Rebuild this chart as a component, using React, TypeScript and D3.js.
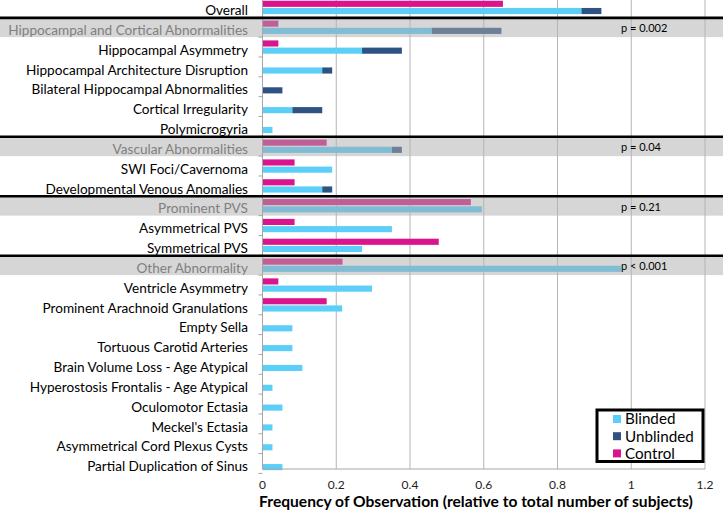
import React, { useEffect } from "react";
import * as d3 from "d3";

const categories = [
  "Overall",
  "Hippocampal and Cortical Abnormalities",
  "Hippocampal Asymmetry",
  "Hippocampal Architecture Disruption",
  "Bilateral Hippocampal Abnormalities",
  "Cortical Irregularity",
  "Polymicrogyria",
  "Vascular Abnormalities",
  "SWI Foci/Cavernoma",
  "Developmental Venous Anomalies",
  "Prominent PVS",
  "Asymmetrical PVS",
  "Symmetrical PVS",
  "Other Abnormality",
  "Ventricle Asymmetry",
  "Prominent Arachnoid Granulations",
  "Empty Sella",
  "Tortuous Carotid Arteries",
  "Brain Volume Loss - Age Atypical",
  "Hyperostosis Frontalis - Age Atypical",
  "Oculomotor Ectasia",
  "Meckel's Ectasia",
  "Asymmetrical Cord Plexus Cysts",
  "Partial Duplication of Sinus",
];

const blinded = [
  0.865, 0.459, 0.27, 0.162, 0, 0.081, 0.027, 0.351, 0.189, 0.162, 0.595, 0.351,
  0.27, 0.973, 0.297, 0.216, 0.081, 0.081, 0.108, 0.027, 0.054, 0.027, 0.027, 0.054,
];
const unblinded = [
  0.054, 0.189, 0.108, 0.027, 0.054, 0.081, 0, 0.027, 0, 0.027, 0, 0,
  0, 0, 0, 0, 0, 0, 0, 0, 0, 0, 0, 0,
];
const control = [
  0.652, 0.043, 0.043, 0, 0, 0, 0, 0.174, 0.087, 0.087, 0.565, 0.087,
  0.478, 0.217, 0.043, 0.174, 0, 0, 0, 0, 0, 0, 0, 0,
];

const groupRows = [
  "Hippocampal and Cortical Abnormalities",
  "Vascular Abnormalities",
  "Prominent PVS",
  "Other Abnormality",
];
const pValues = ["p = 0.002", "p = 0.04", "p = 0.21", "p < 0.001"];

const xTicks = [0, 0.2, 0.4, 0.6, 0.8, 1, 1.2];
const seriesNames = ["Blinded", "Unblinded", "Control"];

const colors: Record<string, string> = {
  Blinded: "#5ccff8",
  Unblinded: "#2e5282",
  Control: "#d9148c",
};
const mutedColors: Record<string, string> = {
  Blinded: "#80bcd4",
  Unblinded: "#6e7f98",
  Control: "#c05e98",
};

const W = 723;
const H = 511;
const FONT = "Lato, 'Open Sans', sans-serif";

export default function App() {
  useEffect(() => {
    document.body.style.margin = "0";
  }, []);

  const x = d3.scaleLinear().domain([0, 1.2]).range([262.5, 705]);
  const y = d3
    .scaleBand<string>()
    .domain(categories)
    .range([-2.5, -2.5 + 24 * 19.83])
    .paddingInner(0)
    .paddingOuter(0);
  const inner = d3
    .scaleBand<string>()
    .domain(["Control", "Blinded"])
    .range([0, y.bandwidth()])
    .paddingInner(0.15)
    .paddingOuter(0.45);

  const axisY = 469;
  const bw = inner.bandwidth();

  return (
    <svg width={W} height={H} style={{ display: "block" }}>
      <rect width={W} height={H} fill="#fff" />

      {/* grey bands for group rows */}
      {groupRows.map((g) => (
        <rect
          key={g}
          x={0}
          y={y(g)!}
          width={W}
          height={y.bandwidth()}
          fill="#d6d6d6"
        />
      ))}

      {/* gridlines */}
      {xTicks.slice(1).map((t) => (
        <line
          key={t}
          x1={x(t)}
          x2={x(t)}
          y1={0}
          y2={axisY}
          stroke="#b4b4b4"
          strokeWidth={1}
        />
      ))}

      {/* bars */}
      {categories.map((c, i) => {
        const top = y(c)!;
        const isGroup = groupRows.includes(c);
        const pal = isGroup ? mutedColors : colors;
        return (
          <g key={c}>
            {control[i] > 0 && (
              <rect
                x={x(0)}
                y={top + inner("Control")!}
                width={x(control[i]) - x(0)}
                height={bw}
                fill={pal.Control}
              />
            )}
            {blinded[i] > 0 && (
              <rect
                x={x(0)}
                y={top + inner("Blinded")!}
                width={x(blinded[i]) - x(0)}
                height={bw}
                fill={pal.Blinded}
              />
            )}
            {unblinded[i] > 0 && (
              <rect
                x={x(blinded[i])}
                y={top + inner("Blinded")!}
                width={x(blinded[i] + unblinded[i]) - x(blinded[i])}
                height={bw}
                fill={pal.Unblinded}
              />
            )}
          </g>
        );
      })}

      {/* y axis */}
      <line x1={x(0)} x2={x(0)} y1={0} y2={axisY} stroke="#a6a6a6" />
      {categories.map((c) => (
        <line
          key={c}
          x1={x(0) - 4}
          x2={x(0)}
          y1={y(c)! + y.bandwidth()}
          y2={y(c)! + y.bandwidth()}
          stroke="#a6a6a6"
        />
      ))}
      {/* x axis */}
      <line x1={x(0)} x2={x(1.2)} y1={axisY} y2={axisY} stroke="#a6a6a6" />

      {/* separators */}
      {groupRows.map((g) => (
        <line
          key={g}
          x1={0}
          x2={W}
          y1={y(g)! + 0.5}
          y2={y(g)! + 0.5}
          stroke="#000"
          strokeWidth={2.6}
        />
      ))}

      {/* category labels */}
      {categories.map((c) => (
        <text
          key={c}
          x={248}
          y={y(c)! + y.bandwidth() / 2 + 2.9}
          dy="0.35em"
          textAnchor="end"
          fontFamily={FONT}
          fontSize={13.6}
          fill={groupRows.includes(c) ? "#808080" : "#000"}
        >
          {c}
        </text>
      ))}

      {/* p values */}
      {groupRows.map((g, i) => (
        <text
          key={g}
          x={621}
          y={y(g)! + y.bandwidth() / 2 + 1}
          dy="0.35em"
          fontFamily={FONT}
          fontSize={11}
          fill="#000"
        >
          {pValues[i]}
        </text>
      ))}

      {/* x tick labels */}
      {xTicks.map((t) => (
        <text
          key={t}
          x={x(t)}
          y={485}
          dy="0.35em"
          textAnchor="middle"
          fontFamily={FONT}
          fontSize={12}
          fill="#222"
        >
          {d3.format("~g")(t)}
        </text>
      ))}

      <text
        x={476}
        y={502}
        dy="0.35em"
        textAnchor="middle"
        fontFamily={FONT}
        fontSize={15.6}
        fontWeight="bold"
        fill="#000"
      >
        Frequency of Observation (relative to total number of subjects)
      </text>

      {/* legend */}
      <g>
        <rect
          x={597}
          y={410}
          width={106}
          height={51.5}
          fill="#fff"
          stroke="#000"
          strokeWidth={3}
        />
        {seriesNames.map((s, i) => (
          <g key={s} transform={`translate(613,${419 + i * 17.2})`}>
            <rect x={0} y={-4} width={8} height={8} fill={colors[s]} />
            <text
              x={12}
              y={0}
              dy="0.35em"
              fontFamily={FONT}
              fontSize={15.2}
              fill="#000"
            >
              {s}
            </text>
          </g>
        ))}
      </g>
    </svg>
  );
}
